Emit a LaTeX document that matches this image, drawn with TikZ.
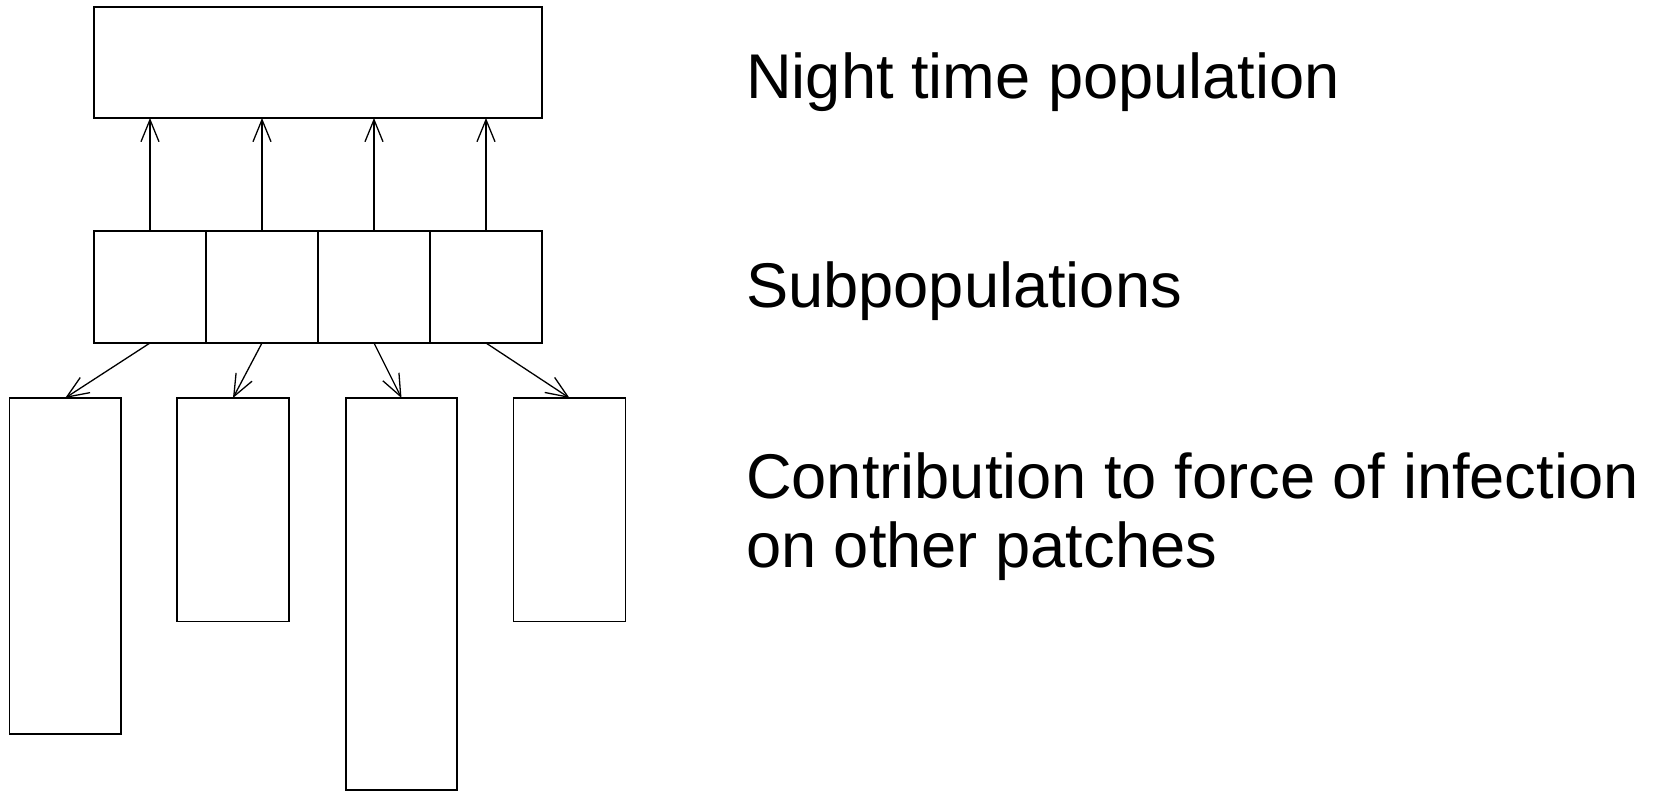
\documentclass[tikz,border=0pt]{standalone}
\usepackage{fontspec}
\setmainfont{Liberation Sans}
\usetikzlibrary{arrows.meta}
\begin{document}
\begin{tikzpicture}[x=1pt, y=-1pt,
  box/.style 2 args={draw, line width=1.5pt, inner sep=0pt, outer sep=0pt,
    minimum width=#1pt, minimum height=#2pt},
  flow/.style={line width=1.3pt, -{Straight Barb[length=22pt, width=18pt, line width=1.3pt]}},
  caption/.style={anchor=base west, inner sep=0pt, align=left,
    font=\fontsize{63.2}{69}\selectfont}]
  \useasboundingbox (0,0) rectangle (1663,791);

  % night time population
  \node[box={448}{111}] (night) at (318,62.5) {};

  % subpopulations
  \node[box={112}{112}] (sub1) at (150,287) {};
  \node[box={112}{112}] (sub2) at (262,287) {};
  \node[box={112}{112}] (sub3) at (374,287) {};
  \node[box={112}{112}] (sub4) at (486,287) {};

  % contributions to other patches
  \node[box={111.5}{336}] (patch1) at (65.25,566) {};
  \node[box={112}{223.5}] (patch2) at (233,509.75) {};
  \node[box={111}{392}] (patch3) at (401.5,594) {};
  \node[box={112}{223.5}] (patch4) at (569.5,509.75) {};

  \foreach \i in {1,...,4} {
    \draw[flow] (sub\i.north) -- (sub\i.north |- night.south);
    \draw[flow] (sub\i.south) -- (patch\i.north);
  }

  % labels (multi-line base anchor sits on the last line)
  \node[caption] (lnight) at (746,98.6) {Night time population};
  \node[caption] (lsub) at (746,307.6) {Subpopulations};
  \node[caption] (lforce) at (746,567.4) {Contribution to force of infection\\on other patches};
\end{tikzpicture}
\end{document}
